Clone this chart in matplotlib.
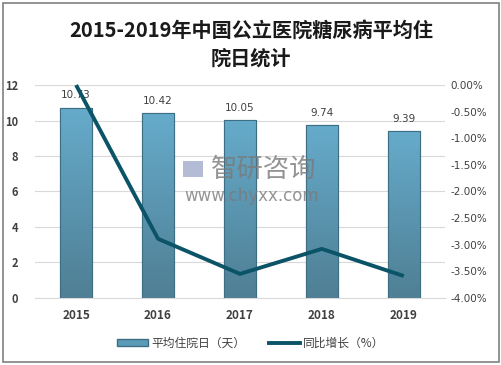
import matplotlib
matplotlib.use("Agg")
import matplotlib.pyplot as plt
import numpy as np
from matplotlib.patches import Rectangle
from matplotlib.lines import Line2D
from matplotlib.colors import LinearSegmentedColormap

plt.rcParams['font.family'] = ['Noto Sans CJK SC', 'DejaVu Sans']

years = ['2015', '2016', '2017', '2018', '2019']
days = [10.73, 10.42, 10.05, 9.74, 9.39]
growth = [0.00, -2.89, -3.55, -3.08, -3.59]
left_ticks = [0, 2, 4, 6, 8, 10, 12]
right_ticks = [0.0, -0.5, -1.0, -1.5, -2.0, -2.5, -3.0, -3.5, -4.0]
title = '2015-2019年中国公立医院糖尿病平均住\n院日统计'
bar_label = '平均住院日（天）'
line_label = '同比增长（%）'

fig = plt.figure(figsize=(5.02, 3.65), dpi=100)
fig.patches.append(Rectangle((0.006, 0.008), 0.988, 0.984, transform=fig.transFigure,
                             fill=False, edgecolor='#808080', linewidth=1.2))

ax = fig.add_axes([0.070, 0.184, 0.816, 0.583])
x = np.arange(len(years))
width = 0.39
bars = ax.bar(x, days, width=width, color='#5b9bb8', edgecolor='#3e6e84', linewidth=0.8, zorder=2)

grad = np.linspace(0, 1, 256).reshape(-1, 1)
cmap = LinearSegmentedColormap.from_list('g', ['#4f7f94', '#66abcb'])
for b in bars:
    x0, y0 = b.get_x(), b.get_y()
    w, h = b.get_width(), b.get_height()
    im = ax.imshow(grad, cmap=cmap, aspect='auto', origin='lower',
                   extent=[x0, x0 + w, y0, y0 + h], zorder=2.5)
    im.set_clip_path(b)
    ax.add_patch(Rectangle((x0, y0), w, h, fill=False, edgecolor='#3e6e84', linewidth=0.8, zorder=2.6))

for xi, v in zip(x, days):
    ax.text(xi, v + 0.4, f'{v:.2f}', ha='center', va='bottom', fontsize=7.5, color='#404040',
            family=['DejaVu Sans'], zorder=3)

ax.set_xlim(-0.5, 4.5)
ax.set_ylim(0, 12)
ax.set_yticks(left_ticks)
ax.set_yticklabels([str(t) for t in left_ticks], fontsize=8, fontweight='bold', color='#404040')
ax.set_xticks(x)
ax.set_xticklabels(years, fontsize=8.5, fontweight='bold', color='#404040')
ax.tick_params(axis='both', length=0, pad=8)
ax.tick_params(axis='y', pad=12)
ax.grid(axis='y', color='#d9d9d9', linewidth=0.8, zorder=0)
ax.set_axisbelow(True)
for s in ['top', 'right', 'left']:
    ax.spines[s].set_visible(False)
ax.spines['bottom'].set_color('#d9d9d9')

ax2 = ax.twinx()
ax2.plot(x, growth, color='#0b5468', linewidth=2.8, zorder=5, clip_on=False, solid_capstyle='butt')
ax2.set_ylim(-4, 0)
ax2.set_yticks(right_ticks)
ax2.set_yticklabels([f'{t:.2f}%' for t in right_ticks], fontsize=7.5, color='#404040',
                    family=['DejaVu Sans'])
ax2.tick_params(axis='y', length=0, pad=4)
for s in ax2.spines.values():
    s.set_visible(False)

# watermark
fig.text(0.526, 0.537, '智研咨询', ha='center', va='center', fontsize=19, color='#7a7a7a', alpha=0.8)
fig.text(0.502, 0.463, 'www.chyxx.com', ha='center', va='center', fontsize=12, color='#7a7a7a',
         alpha=0.8, family=['DejaVu Sans'])
fig.patches.append(Rectangle((0.365, 0.515), 0.039, 0.044, transform=fig.transFigure,
                             facecolor='#9aa4c8', edgecolor='none', alpha=0.75))

fig.text(0.5, 0.918, '2015-2019年中国公立医院糖尿病平均住', ha='center', va='center',
         fontsize=14.5, fontweight='bold', color='#1a1a1a')
fig.text(0.5, 0.841, '院日统计', ha='center', va='center',
         fontsize=14.5, fontweight='bold', color='#1a1a1a')

handles = [Rectangle((0, 0), 1, 1, facecolor='#5b9bb8', edgecolor='#3e6e84'),
           Line2D([0], [0], color='#0b5468', linewidth=2.8)]
fig.legend(handles, [bar_label, line_label], loc='center', bbox_to_anchor=(0.5, 0.06),
           ncol=2, frameon=False, fontsize=8.5, handlelength=2.6, handleheight=0.6,
           columnspacing=2.0, handletextpad=0.3, labelcolor='#404040')

fig.savefig('out.png', dpi=100)
